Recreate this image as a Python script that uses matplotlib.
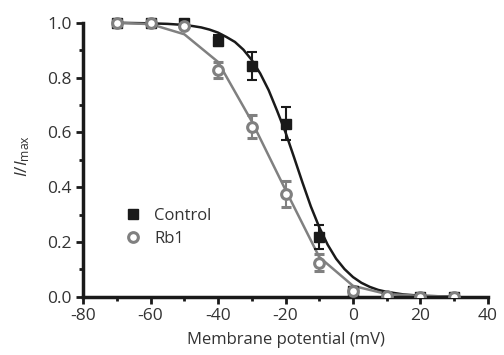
import matplotlib
matplotlib.use("Agg")
import matplotlib.pyplot as plt
from matplotlib.ticker import MultipleLocator
from matplotlib.lines import Line2D

plt.rcParams['font.family'] = ['Open Sans', 'DejaVu Sans']
plt.rcParams['mathtext.fontset'] = 'custom'
plt.rcParams['mathtext.it'] = 'Open Sans:italic'
plt.rcParams['mathtext.rm'] = 'Open Sans'

# Data points
voltage = [-70, -60, -50, -40, -30, -20, -10, 0, 10, 20, 30]
control = [1.0, 1.0, 1.0, 0.934, 0.842, 0.632, 0.219, 0.02, 0.0, 0.0, 0.0]
control_err = [0, 0, 0, 0.02, 0.05, 0.06, 0.043, 0, 0, 0, 0]
rb1 = [1.0, 1.0, 0.99, 0.828, 0.621, 0.375, 0.125, 0.022, 0.003, 0.0, 0.0]
rb1_err = [0, 0, 0, 0.03, 0.042, 0.047, 0.03, 0, 0, 0, 0]

# Fitted curves
control_fit_v = [-70, -60, -55, -50, -47.5, -45, -42.5, -40, -37.5, -35, -32.5, -30,
                 -27.5, -25, -22.5, -20, -17.5, -15, -12.5, -10, -7.5, -5, -2.5, 0,
                 2.5, 5, 7.5, 10, 15, 20, 25, 30]
control_fit = [1.0, 0.998, 0.996, 0.992, 0.988, 0.983, 0.975, 0.964, 0.948, 0.930, 0.902, 0.864,
               0.815, 0.754, 0.679, 0.600, 0.510, 0.418, 0.330, 0.254, 0.190, 0.139, 0.101, 0.072,
               0.051, 0.036, 0.025, 0.018, 0.0085, 0.004, 0.002, 0.001]
rb1_fit_v = [-70, -60, -50, -40, -30, -20, -10, 0, 10, 20, 30]
rb1_fit = [1.0, 0.995, 0.958, 0.857, 0.64, 0.39, 0.145, 0.04, 0.01, 0.003, 0.001]

xticks = [-80, -60, -40, -20, 0, 20, 40]
yticks = [0.0, 0.2, 0.4, 0.6, 0.8, 1.0]

GRAY = '#808080'
BLACK = '#1a1a1a'
TEXT = '#333333'

fig = plt.figure(figsize=(5.04, 3.55), dpi=100)
ax = fig.add_axes([0.165, 0.164, 0.803, 0.795])

ax.plot(control_fit_v, control_fit, color=BLACK, lw=1.8, zorder=2)
ax.plot(rb1_fit_v, rb1_fit, color=GRAY, lw=1.8, zorder=2)

ax.errorbar(voltage, control, yerr=control_err, fmt='s', color=BLACK, ms=6.5,
            mfc=BLACK, mec=BLACK, ecolor=BLACK, elinewidth=1.5, capsize=3.5, capthick=1.5,
            zorder=3)
ax.errorbar(voltage, rb1, yerr=rb1_err, fmt='o', color=GRAY, ms=7, mfc='white',
            mec=GRAY, mew=2.2, ecolor=GRAY, elinewidth=1.5, capsize=3.5, capthick=1.5,
            zorder=4)

ax.set_xlim(-80, 40)
ax.set_ylim(0, 1.03)
ax.spines['left'].set_bounds(0, 1.0)
ax.spines['top'].set_visible(False)
ax.spines['right'].set_visible(False)
for s in ('left', 'bottom'):
    ax.spines[s].set_linewidth(2.5)
    ax.spines[s].set_color(BLACK)

ax.set_xticks(xticks)
ax.set_xticklabels([f'{t:d}' for t in xticks])
ax.set_yticks(yticks)
ax.set_yticklabels([f'{t:.1f}' for t in yticks])
ax.xaxis.set_minor_locator(MultipleLocator(10))
ax.yaxis.set_minor_locator(MultipleLocator(0.1))
ax.tick_params(which='major', direction='out', length=5, width=2, labelsize=12.5,
               color=BLACK, labelcolor=TEXT, pad=3)
ax.tick_params(which='minor', direction='out', length=3, width=2, color=BLACK)

ax.set_xlabel('Membrane potential (mV)', fontsize=12, color=TEXT, labelpad=6)
ax.set_ylabel(r'$I/I_{\rm max}$', fontsize=12.5, color=TEXT, labelpad=11)

handles = [
    Line2D([], [], ls='none', marker='s', ms=6.5, mfc=BLACK, mec=BLACK),
    Line2D([], [], ls='none', marker='o', ms=7, mfc='white', mec=GRAY, mew=2.2),
]
leg = ax.legend(handles, ['Control', 'Rb1'], loc='upper left',
                bbox_to_anchor=(0.085, 0.345), frameon=False,
                fontsize=12, handletextpad=0.9, labelspacing=0.45, handlelength=0.8,
                borderpad=0)
for t in leg.get_texts():
    t.set_color(TEXT)

fig.savefig('out.png', dpi=100)
